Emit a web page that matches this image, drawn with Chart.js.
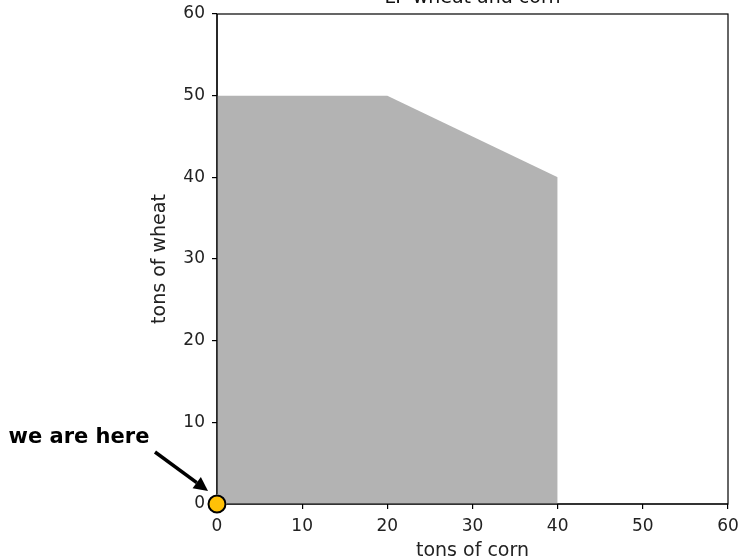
<!DOCTYPE html>
<html>
<head>
<meta charset="utf-8">
<script src="https://cdn.jsdelivr.net/npm/chart.js@4/dist/chart.umd.min.js"></script>
<style>
  html, body { margin: 0; padding: 0; background: #fff; overflow: hidden; }
  #wrap { width: 742px; height: 560px; position: relative; }
</style>
</head>
<body>
<div id="wrap"><canvas id="c" width="742" height="560"></canvas></div>
<script>
// ---- data ----
const chartTitle = "LP wheat and corn";
const xAxisLabel = "tons of corn";
const yAxisLabel = "tons of wheat";
const regionCorn  = [0, 20, 40, 40];   // feasible region boundary, x (corn)
const regionWheat = [50, 50, 40, 0];   // feasible region boundary, y (wheat)
const currentCorn  = [0];
const currentWheat = [0];
const annotationText = "we are here";
const xTicks = [0, 10, 20, 30, 40, 50, 60];
const yTicks = [0, 10, 20, 30, 40, 50, 60];

const regionData = regionCorn.map((x, i) => ({ x, y: regionWheat[i] }));
const currentData = currentCorn.map((x, i) => ({ x, y: currentWheat[i] }));

const frameAndAnnotations = {
  id: 'frameAndAnnotations',
  beforeDatasetsDraw(chart) {
    const { ctx, chartArea: a } = chart;
    ctx.save();
    ctx.strokeStyle = '#000';
    ctx.lineWidth = 1.2;
    ctx.strokeRect(a.left, a.top, a.right - a.left, a.bottom - a.top);
    ctx.restore();
  },
  afterDatasetsDraw(chart) {
    const { ctx, chartArea: a } = chart;
    ctx.save();
    ctx.strokeStyle = '#000';
    ctx.lineWidth = 1.2;
    ctx.beginPath();
    ctx.moveTo(a.left + 10, a.bottom); ctx.lineTo(a.right, a.bottom);
    ctx.moveTo(a.left, a.top); ctx.lineTo(a.left, a.bottom - 10);
    ctx.stroke();
    ctx.restore();
  },
  afterDraw(chart) {
    const { ctx, chartArea: a, scales } = chart;
    ctx.save();
    ctx.fillStyle = '#111';
    ctx.font = '19px "DejaVu Sans"';
    ctx.textAlign = 'center';
    ctx.textBaseline = 'alphabetic';
    ctx.fillText(chartTitle, (a.left + a.right) / 2, a.top - 11);
    const px = scales.x.getPixelForValue(currentCorn[0]);
    const py = scales.y.getPixelForValue(currentWheat[0]);
    ctx.font = 'bold 21px "DejaVu Sans"';
    ctx.fillStyle = '#000';
    ctx.textAlign = 'center';
    ctx.textBaseline = 'middle';
    ctx.fillText(annotationText, px - 138, py - 66);
    const tx = px - 62, ty = py - 52;
    const hx = px - 9, hy = py - 13;
    const ang = Math.atan2(hy - ty, hx - tx);
    const headLen = 14, headW = 7;
    const bx = hx - headLen * Math.cos(ang), by = hy - headLen * Math.sin(ang);
    ctx.strokeStyle = '#000';
    ctx.lineWidth = 3.5;
    ctx.beginPath();
    ctx.moveTo(tx, ty);
    ctx.lineTo(bx, by);
    ctx.stroke();
    ctx.beginPath();
    ctx.moveTo(hx, hy);
    ctx.lineTo(bx + headW * Math.sin(ang), by - headW * Math.cos(ang));
    ctx.lineTo(bx - headW * Math.sin(ang), by + headW * Math.cos(ang));
    ctx.closePath();
    ctx.fillStyle = '#000';
    ctx.fill();
    ctx.restore();
  }
};

new Chart(document.getElementById('c'), {
  type: 'scatter',
  data: {
    datasets: [
      {
        label: 'feasible region',
        data: regionData,
        showLine: true,
        fill: 'origin',
        backgroundColor: 'rgb(179,179,179)',
        borderColor: 'rgba(0,0,0,0)',
        borderWidth: 0,
        pointRadius: 0,
        tension: 0,
        order: 2
      },
      {
        label: 'we are here',
        data: currentData,
        backgroundColor: '#FFC107',
        borderColor: '#000',
        borderWidth: 2,
        pointRadius: 8.5,
        pointHoverRadius: 8.5,
        clip: false,
        order: 1
      }
    ]
  },
  options: {
    responsive: false,
    animation: false,
    events: [],
    layout: { padding: { left: 150, right: 14, top: 14, bottom: 0 } },
    plugins: { legend: { display: false }, tooltip: { enabled: false }, title: { display: false } },
    scales: {
      x: {
        type: 'linear',
        min: 0, max: 60,
        afterBuildTicks: (s) => { s.ticks = xTicks.map(v => ({ value: v })); },
        afterFit: (s) => { s.height = 56; s.paddingLeft = 0; s.paddingRight = 0; },
        grid: { display: true, drawOnChartArea: false, drawTicks: true, tickLength: 5, color: '#000', lineWidth: 1.2 },
        border: { display: false },
        ticks: { font: { family: 'DejaVu Sans', size: 17 }, color: '#222', padding: 7, maxRotation: 0 },
        title: { display: true, text: xAxisLabel, font: { family: 'DejaVu Sans', size: 19 }, color: '#222', padding: { top: 0, bottom: -2 } }
      },
      y: {
        type: 'linear',
        min: 0, max: 60,
        afterBuildTicks: (s) => { s.ticks = yTicks.map(v => ({ value: v })); },
        afterFit: (s) => { s.width = 67; s.paddingTop = 0; s.paddingBottom = 0; },
        grid: { display: true, drawOnChartArea: false, drawTicks: true, tickLength: 5, color: '#000', lineWidth: 1.2 },
        border: { display: false },
        ticks: { font: { family: 'DejaVu Sans', size: 17 }, color: '#222', padding: 7 },
        title: { display: true, text: yAxisLabel, font: { family: 'DejaVu Sans', size: 19 }, color: '#222', padding: { top: -1, bottom: 0 } }
      }
    }
  },
  plugins: [frameAndAnnotations]
});
</script>
</body>
</html>
